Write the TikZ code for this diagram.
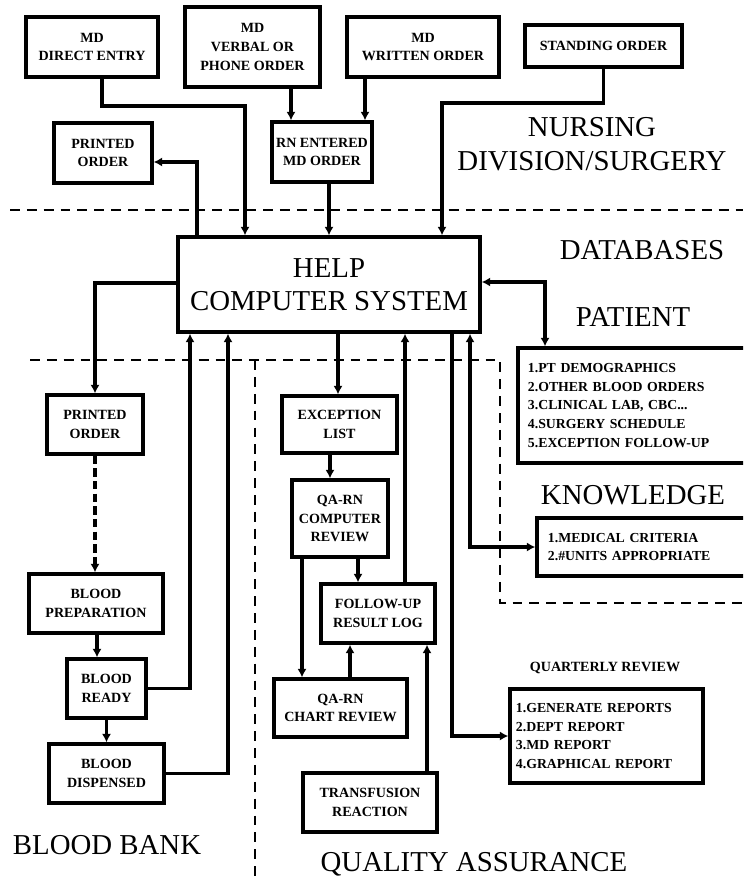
\documentclass[tikz,border=0pt]{standalone}
\usepackage{fontspec}
\setmainfont{Liberation Serif}
\usepackage{tikz}
\usetikzlibrary{arrows.meta}

\tikzset{
  box/.style={draw, line width=2.4pt, align=center, inner sep=2pt, font=\bfseries\fontsize{10}{13.3}\selectfont},
  listbox/.style={draw, line width=2.4pt, align=left, font=\bfseries\fontsize{9.8}{13.3}\selectfont},
  area/.style={align=center, font=\fontsize{20.5}{24}\selectfont},
  link/.style={line width=2.2pt, -{Latex[length=6pt,width=6.5pt]}},
  both/.style={{Latex[length=6pt,width=6.5pt]}-{Latex[length=6pt,width=6.5pt]}},
  border/.style={line width=1pt, dash pattern=on 7pt off 5pt}
}

\begin{document}
\begin{tikzpicture}[x=0.025cm, y=-0.025cm]
\useasboundingbox (0,0) rectangle (743,880);
\clip (0,0) rectangle (743,880);

% region borders
\draw[border] (10,210) -- (743,210);
\draw[border] (30,360) -- (500,360) -- (500,603) -- (743,603);
\draw[border] (255,360) -- (255,880);

% orders
\node[box, minimum width=3.3cm, minimum height=1.5cm] (direct) at (92,47) {MD\\DIRECT ENTRY};
\node[box, minimum width=3.375cm, minimum height=2cm] (verbal) at (252.5,47) {MD\\VERBAL OR\\PHONE ORDER};
\node[box, minimum width=3.8cm, minimum height=1.5cm] (written) at (423,47) {MD\\WRITTEN ORDER};
\node[box, minimum width=3.925cm, minimum height=1.05cm] (standing) at (603.5,46) {STANDING ORDER};
\node[box, minimum width=2.45cm, minimum height=1.5cm] (printtop) at (103,153) {PRINTED\\ORDER};
\node[box, minimum width=2.5cm, minimum height=1.5cm] (rnentered) at (322,152) {RN ENTERED\\MD ORDER};

\node[area] at (592,144) {NURSING\\DIVISION/SURGERY};

% help system
\node[draw, line width=2.4pt, minimum width=7.55cm, minimum height=2.375cm, align=center,
      font=\fontsize{20.5}{23.5}\selectfont] (help) at (329,284.5) {HELP\\COMPUTER SYSTEM};

% databases
\node[area] at (642,250) {DATABASES};
\node[area] at (633,317) {PATIENT};
\node[listbox, minimum width=5.8cm, minimum height=2.875cm, text width=5.3cm, inner xsep=0.25cm] (patlist) at (634,405.5)
  {1.PT DEMOGRAPHICS\\2.OTHER BLOOD ORDERS\\3.CLINICAL LAB, CBC...\\4.SURGERY SCHEDULE\\5.EXCEPTION FOLLOW-UP};
\node[area] at (633,495) {KNOWLEDGE};
\node[listbox, minimum width=5.325cm, minimum height=1.45cm, text width=4.775cm, inner xsep=0.275cm] (knowlist) at (643.5,547)
  {1.MEDICAL CRITERIA\\2.\#UNITS APPROPRIATE};

% blood bank
\node[box, minimum width=2.4cm, minimum height=1.475cm] (printbb) at (95,424.5) {PRINTED\\ORDER};
\node[box, minimum width=3.35cm, minimum height=1.475cm] (prep) at (96,603.5) {BLOOD\\PREPARATION};
\node[box, minimum width=1.975cm, minimum height=1.475cm] (ready) at (106.5,688.5) {BLOOD\\READY};
\node[box, minimum width=2.875cm, minimum height=1.475cm] (dispensed) at (106.5,773.5) {BLOOD\\DISPENSED};
\node[area] at (107,845) {BLOOD BANK};

% quality assurance
\node[box, minimum width=2.875cm, minimum height=1.425cm] (except) at (339.5,424.5) {EXCEPTION\\LIST};
\node[box, minimum width=2.4cm, minimum height=1.925cm] (compreview) at (340,518.5) {QA-RN\\COMPUTER\\REVIEW};
\node[box, minimum width=2.85cm, minimum height=1.475cm] (followup) at (378,613.5) {FOLLOW-UP\\RESULT LOG};
\node[box, minimum width=3.325cm, minimum height=1.45cm] (chart) at (340.5,708) {QA-RN\\CHART REVIEW};
\node[box, minimum width=3.35cm, minimum height=1.475cm] (transfusion) at (370,802.5) {TRANSFUSION\\REACTION};
\node[font=\bfseries\fontsize{10}{12}\selectfont] at (605,668) {QUARTERLY REVIEW};
\node[listbox, minimum width=4.825cm, minimum height=2.35cm, text width=4.525cm, inner xsep=0.15cm] (reports) at (606.5,736)
  {1.GENERATE REPORTS\\2.DEPT REPORT\\3.MD REPORT\\4.GRAPHICAL REPORT};
\node[area] at (474,864) {QUALITY ASSURANCE};

% connectors top
\draw[link] (direct.south -| 102,0) |- (245,106) -- (help.north -| 245,0);
\draw[link] (help.north -| 197,0) |- (printtop.east |- 0,162);
\draw[link] (verbal.south -| 291,0) -- (rnentered.north -| 291,0);
\draw[link] (written.south -| 365,0) -- (rnentered.north -| 365,0);
\draw[link] (rnentered.south -| 329,0) -- (help.north -| 329,0);
\draw[link] (standing.south) |- (442,103) -- (help.north -| 442,0);
\draw[link, both] (help.east |- 0,282) -| (patlist.north -| 545,0);

% connectors blood bank
\draw[link] (help.west |- 0,283) -| (printbb.north);
\draw[link, dash pattern=on 6pt off 3pt] (printbb.south) -- (printbb.south |- prep.north);
\draw[link] (prep.south -| 97,0) -- (ready.north -| 97,0);
\draw[link] (ready.south) -- (dispensed.north);
\draw[link] (ready.east) -| (help.south -| 190,0);
\draw[link] (dispensed.east) -| (help.south -| 228,0);

% connectors quality assurance
\draw[link] (help.south -| 338,0) -- (except.north -| 338,0);
\draw[link] (except.south -| 330,0) -- (compreview.north -| 330,0);
\draw[link] (compreview.south -| 358,0) -- (followup.north -| 358,0);
\draw[link] (compreview.south -| 302,0) -- (chart.north -| 302,0);
\draw[link] (chart.north -| 350,0) -- (followup.south -| 350,0);
\draw[link] (transfusion.north -| 427,0) -- (followup.south -| 427,0);
\draw[link] (followup.north -| 405,0) -- (help.south -| 405,0);
\draw[link] (help.south -| 452,0) |- (reports.west);
\draw[link, both] (help.south -| 470,0) |- (knowlist.west);

\end{tikzpicture}
\end{document}
